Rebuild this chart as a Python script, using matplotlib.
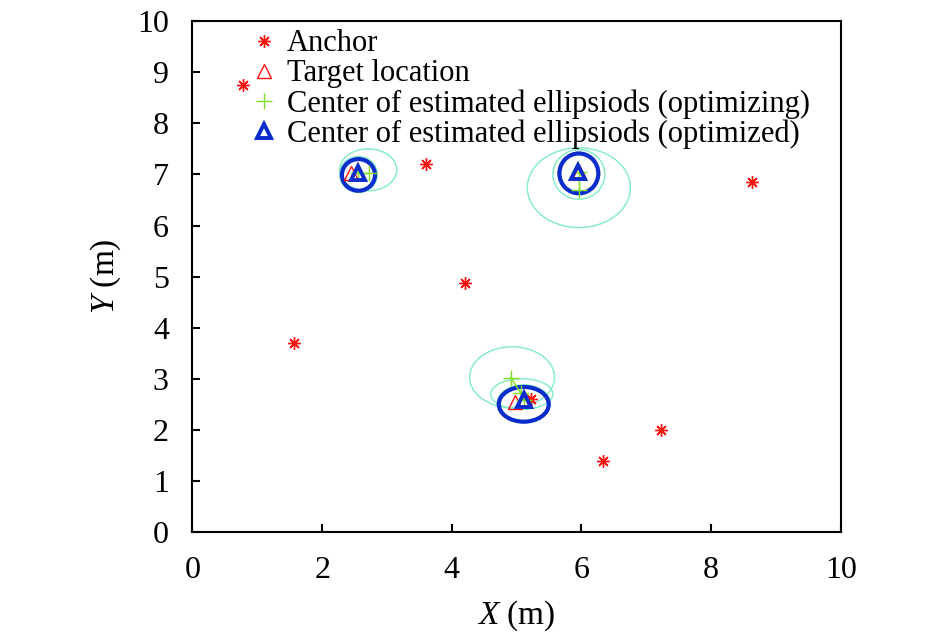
import matplotlib.pyplot as plt
from matplotlib.patches import Ellipse

plt.rcParams['font.family'] = ['Liberation Serif', 'DejaVu Serif']
plt.rcParams['mathtext.fontset'] = 'custom'
plt.rcParams['mathtext.it'] = 'Liberation Serif:italic'
plt.rcParams['mathtext.rm'] = 'Liberation Serif'

# anchors
anchor_x = [0.78, 3.60, 8.63, 4.20, 1.57, 5.22, 7.23, 6.33]
anchor_y = [8.76, 7.20, 6.85, 4.88, 3.70, 2.61, 2.00, 1.40]

# true target locations
target_x = [2.45, 5.96, 4.98]
target_y = [7.02, 7.04, 2.55]

# optimizing centers, one track per target
track_x = [[2.73, 2.56], [5.96, 5.96], [4.91, 5.06, 5.11]]
track_y = [[7.02, 7.02], [6.70, 7.05], [3.02, 2.73, 2.59]]

# optimized centers
opt_x = [2.56, 5.94, 5.11]
opt_y = [7.02, 7.04, 2.59]

# estimated ellipses while optimizing (cx, cy, width, height)
ell_cx = [2.71, 2.56, 5.96, 5.96, 5.96, 4.93, 5.08, 5.11]
ell_cy = [7.09, 7.00, 6.74, 7.00, 7.02, 3.03, 2.70, 2.52]
ell_w = [0.88, 0.58, 1.59, 0.80, 0.64, 1.31, 0.96, 0.82]
ell_h = [0.82, 0.70, 1.56, 0.97, 0.82, 1.19, 0.60, 0.72]

# final ellipses
fin_cx = [2.56, 5.96, 5.11]
fin_cy = [6.99, 7.02, 2.50]
fin_w = [0.51, 0.60, 0.77]
fin_h = [0.62, 0.78, 0.68]

green = '#80e020'
aqua = '#80ecc0'
blue = '#0a2ccc'

fig = plt.figure(figsize=(9.45, 6.41), dpi=100)
ax = fig.add_axes([0.2037, 0.170, 0.686, 0.797])

for cx, cy, w, h in zip(ell_cx, ell_cy, ell_w, ell_h):
    ax.add_patch(Ellipse((cx, cy), w, h, fill=False, edgecolor=aqua, lw=1.0))

for tx, ty in zip(track_x, track_y):
    ax.plot(tx, ty, '-', color=green, lw=1.0)

ax.plot(anchor_x, anchor_y, ls='none', marker=(8, 2, 0), ms=9, mew=1.0,
        color='#ff1010', label='Anchor')
ax.plot(target_x, target_y, ls='none', marker='^', ms=10, mew=1.0,
        mfc='none', mec='#ff1010', label='Target location')
ax.plot([x for t in track_x for x in t], [y for t in track_y for y in t],
        ls='none', marker='+', ms=11, mew=1.0, color=green,
        label='Center of estimated ellipsiods (optimizing)')

for cx, cy, w, h in zip(fin_cx, fin_cy, fin_w, fin_h):
    ax.add_patch(Ellipse((cx, cy), w, h, fill=False, edgecolor=blue, lw=3.0))

ax.plot(opt_x, opt_y, ls='none', marker='^', ms=10, mew=2.8,
        mfc='none', mec=blue, label='Center of estimated ellipsiods (optimized)')

ax.set_xlim(0, 10)
ax.set_ylim(0, 10)
ax.set_xticks(range(0, 11, 2))
ax.set_yticks(range(0, 11, 1))
ax.tick_params(direction='in', length=6, width=1.5, labelsize=23, pad=17)
for s in ax.spines.values():
    s.set_linewidth(1.5)

ax.set_xlabel('$X$ (m)', fontsize=24, labelpad=10)
ax.set_ylabel('$Y$ (m)', fontsize=24, labelpad=10)

ax.legend(loc='upper left', bbox_to_anchor=(0.073, 1.008), frameon=False,
          fontsize=22, handlelength=0.8, handletextpad=0.35,
          labelspacing=0.03, borderaxespad=0)

fig.savefig('out.png', dpi=100)
